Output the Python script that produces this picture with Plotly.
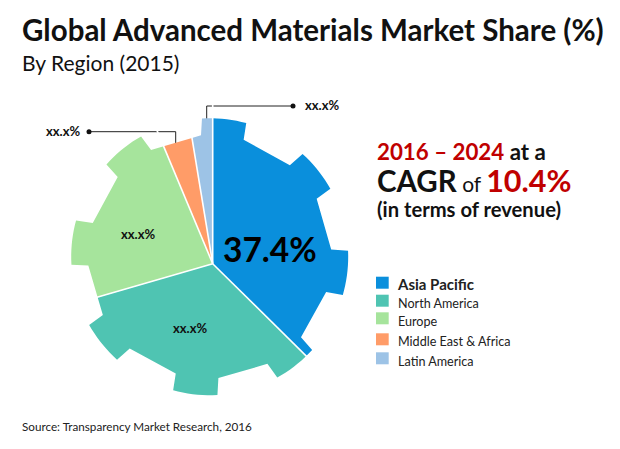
import math
import plotly.graph_objects as go

regions = ["Asia Pacific", "North America", "Europe", "Middle East & Africa", "Latin America"]
shares = [37.4, 33.1, 23.2, 3.7, 2.6]
colors = ["#0A8FDC", "#4FC4B2", "#A6E49C", "#FF9C68", "#9DC3E6"]
tooth_starts = [-3.2, 42.1, 87.5, 132.3, 176.8, 222.0, 266.7, 311.8]
tooth_width = 18.5
tooth_base_pad = 0.9
gear_outer = 138.5
gear_inner = 121.7
gear_dx, gear_dy = -3.0, 7.0
apex_x, apex_y = 212.7, 263.7
radial_max = 160.0
FONT = "Lato"


def gear_point(angle, radius):
    a = math.radians(angle)
    return (gear_dx + radius * math.sin(a), gear_dy + radius * math.cos(a))


gear = []
for start in tooth_starts:
    gear.append(gear_point(start - tooth_base_pad, gear_inner))
    for k in range(10):
        gear.append(gear_point(start + tooth_width * k / 9, gear_outer))
    gear.append(gear_point(start + tooth_width + tooth_base_pad, gear_inner))


def clip(poly, nx, ny):
    out = []
    for i, p in enumerate(poly):
        q = poly[(i + 1) % len(poly)]
        dp = p[0] * nx + p[1] * ny
        dq = q[0] * nx + q[1] * ny
        if dp >= 0:
            out.append(p)
        if (dp >= 0) != (dq >= 0):
            t = dp / (dp - dq)
            out.append((p[0] + t * (q[0] - p[0]), p[1] + t * (q[1] - p[1])))
    return out


fig = go.Figure()
cum = 0.0
edges = []
for name, share, color in zip(regions, shares, colors):
    a0 = cum * 3.6
    cum += share
    a1 = cum * 3.6
    edges.append(a0)
    r0, r1 = math.radians(a0), math.radians(a1)
    piece = clip(gear, math.cos(r0), -math.sin(r0))
    piece = clip(piece, -math.cos(r1), math.sin(r1))
    rr = [math.hypot(x, y) for x, y in piece]
    th = [math.degrees(math.atan2(x, y)) % 360 for x, y in piece]
    fig.add_trace(go.Scatterpolar(r=rr + rr[:1], theta=th + th[:1], mode="lines", fill="toself",
                                  fillcolor=color, line=dict(color=color, width=0),
                                  name=name, showlegend=False, hoverinfo="name"))

for a in edges:
    fig.add_trace(go.Scatterpolar(r=[0, radial_max], theta=[a, a], mode="lines",
                                  line=dict(color="white", width=1.6),
                                  showlegend=False, hoverinfo="skip"))

# leader lines on a full-figure pixel overlay
leader_top_x = [206.7, 206.7, 293]
leader_top_y = [119, 106, 106]
leader_left_x = [175.7, 175.7, 89]
leader_left_y = [143, 131.7, 131.7]
for lx, ly in ((leader_top_x, leader_top_y), (leader_left_x, leader_left_y)):
    fig.add_trace(go.Scatter(x=lx, y=ly, mode="lines", line=dict(color="#222222", width=1),
                             showlegend=False, hoverinfo="skip", xaxis="x", yaxis="y"))
    fig.add_trace(go.Scatter(x=lx[-1:], y=ly[-1:], mode="markers",
                             marker=dict(color="#111111", size=5),
                             showlegend=False, hoverinfo="skip", xaxis="x", yaxis="y"))

W, H = 620, 449


def text(x, y, s, size, bold=False, color="#111111", anchor="left"):
    fig.add_annotation(x=x, y=y, xref="x", yref="y", text=f"<b>{s}</b>" if bold else s,
                       showarrow=False, xanchor=anchor, yanchor="middle",
                       font=dict(family=FONT, size=size, color=color))


RED = "#C00000"
text(20, 29, "Global Advanced Materials Market Share (%)", 29.5, True)
text(20, 62, "By Region (2015)", 21)
text(303, 105, "xx.x%", 13, True)
text(44, 131, "xx.x%", 13, True)
text(138, 233.7, "xx.x%", 13, True, anchor="center")
text(190, 328, "xx.x%", 13, True, anchor="center")
text(270, 249, "37.4%", 33.5, True, "#000000", "center")

text(375, 151, f'<span style="color:{RED}">2016 – 2024</span> at a', 22.3, True)
text(375, 180, f'<span style="font-size:29.5px">CAGR</span><span style="font-size:21px;font-weight:normal"> of </span><span style="color:{RED}">10.4%</span>', 30.5, True)
text(375, 209, "(in terms of revenue)", 20.2, True)

swatch_tops = [276.7, 294.7, 312.3, 333.3, 352.3]
legend_y = [284, 303, 321.3, 341.3, 361]
for name, color, top, ly in zip(regions, colors, swatch_tops, legend_y):
    fig.add_shape(type="rect", xref="x", yref="y", x0=376, x1=388.7, y0=top, y1=top + 12,
                  fillcolor=color, line=dict(width=0))
    first = name == regions[0]
    text(395 if first else 396, ly, name, 15 if first else 12.6, first, "#222222")

text(20, 426, "Source: Transparency Market Research, 2016", 11.7, False, "#222222")

fig.update_layout(
    width=W, height=H, margin=dict(l=0, r=0, t=0, b=0), paper_bgcolor="white",
    plot_bgcolor="rgba(0,0,0,0)", showlegend=False,
    polar=dict(
        domain=dict(x=[(apex_x - radial_max) / W, (apex_x + radial_max) / W],
                    y=[1 - (apex_y + radial_max) / H, 1 - (apex_y - radial_max) / H]),
        bgcolor="rgba(0,0,0,0)",
        radialaxis=dict(visible=False, range=[0, radial_max]),
        angularaxis=dict(visible=False, rotation=90, direction="clockwise"),
    ),
    xaxis=dict(visible=False, range=[0, W], domain=[0, 1], fixedrange=True),
    yaxis=dict(visible=False, range=[H, 0], domain=[0, 1], fixedrange=True),
)

fig.write_html("out.html", config={"displayModeBar": False},
               post_script="document.body.style.margin='0';")
